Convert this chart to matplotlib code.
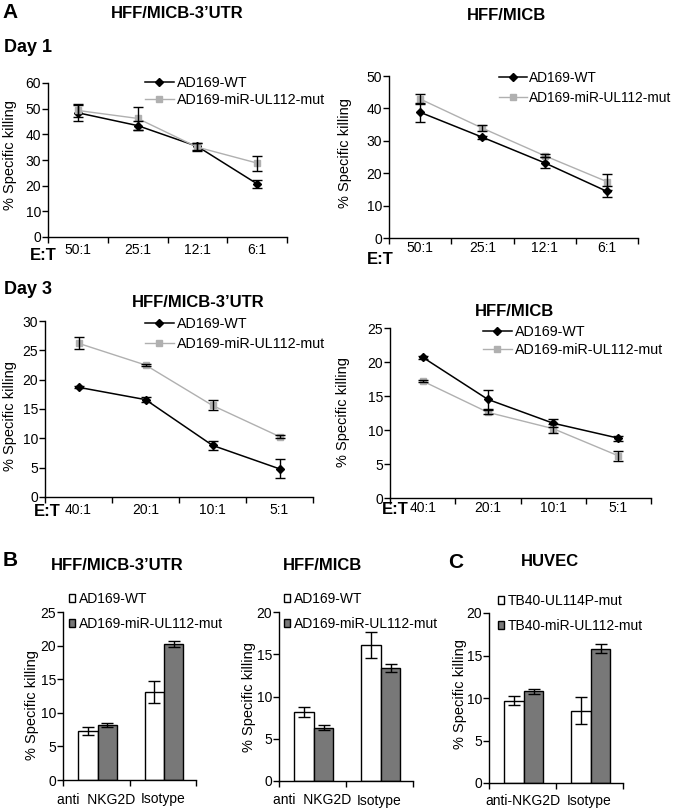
import matplotlib.pyplot as plt

plt.rcParams['font.family'] = ['Liberation Sans', 'DejaVu Sans']

# ---- data ----
ratios_day1 = ["50:1", "25:1", "12:1", "6:1"]
ratios_day3 = ["40:1", "20:1", "10:1", "5:1"]
line_labels = ["AD169-WT", "AD169-miR-UL112-mut"]

d1_utr_wt = [48.4, 43.4, 35.3, 20.7]
d1_utr_wt_err = [3.2, 1.8, 1.5, 1.6]
d1_utr_mut = [49.3, 46.2, 35.0, 28.8]
d1_utr_mut_err = [2.6, 4.4, 1.6, 2.9]

d1_micb_wt = [38.8, 31.1, 23.2, 14.4]
d1_micb_wt_err = [3.0, 0.5, 1.7, 1.6]
d1_micb_mut = [42.9, 33.9, 25.4, 17.4]
d1_micb_mut_err = [1.5, 1.0, 0.5, 2.5]

d3_utr_wt = [18.7, 16.6, 8.8, 4.8]
d3_utr_wt_err = [0.2, 0.4, 0.8, 1.6]
d3_utr_mut = [26.2, 22.5, 15.6, 10.3]
d3_utr_mut_err = [1.0, 0.2, 0.85, 0.3]

d3_micb_wt = [20.7, 14.5, 11.0, 8.8]
d3_micb_wt_err = [0.2, 1.35, 0.6, 0.35]
d3_micb_mut = [17.2, 12.6, 10.2, 6.2]
d3_micb_mut_err = [0.2, 0.3, 0.65, 0.7]

b_groups = ["anti  NKG2D", "Isotype"]
b_utr_wt = [7.3, 13.1]
b_utr_wt_err = [0.6, 1.6]
b_utr_mut = [8.2, 20.2]
b_utr_mut_err = [0.3, 0.45]
b_micb_wt = [8.2, 16.1]
b_micb_wt_err = [0.6, 1.5]
b_micb_mut = [6.3, 13.4]
b_micb_mut_err = [0.3, 0.5]

c_groups = ["anti-NKG2D", "Isotype"]
c_labels = ["TB40-UL114P-mut", "TB40-miR-UL112-mut"]
c_ul114 = [9.7, 8.5]
c_ul114_err = [0.55, 1.6]
c_mir = [10.8, 15.8]
c_mir_err = [0.3, 0.55]

W, H = 674, 810
fig = plt.figure(figsize=(W / 100, H / 100), dpi=100)
GRAY = "#b0b0b0"
BAR_GRAY = "#787878"


def px_axes(x0, y0, x1, y1):
    return fig.add_axes([x0 / W, 1 - y1 / H, (x1 - x0) / W, (y1 - y0) / H])


def ftext(x, y, s, **kw):
    fig.text(x / W, 1 - y / H, s, **kw)


def style_axes(ax, n, ymax, ystep, xpad):
    for side in ["top", "right"]:
        ax.spines[side].set_visible(False)
    for side in ["left", "bottom"]:
        ax.spines[side].set_linewidth(1.0)
    ax.set_xlim(-0.5, n - 0.5)
    ax.set_ylim(0, ymax)
    ax.set_yticks(range(0, ymax + 1, ystep))
    ax.set_xticks([i - 0.5 for i in range(n + 1)], minor=True)
    ax.tick_params(axis="y", direction="out", length=4, width=1, pad=1, labelsize=10)
    ax.tick_params(axis="x", which="major", length=0, pad=xpad, labelsize=10)
    ax.tick_params(axis="x", which="minor", direction="out", length=4, width=1)


def line_panel(rect, cats, wt, wt_err, mut, mut_err, ymax, ystep, xpad,
               leg_xy, leg_space, leg_size=10.3):
    ax = px_axes(*rect)
    x = list(range(len(cats)))
    h1, = ax.plot(x, wt, color="black", lw=1.1, marker="D", ms=4.2, clip_on=False)
    h2, = ax.plot(x, mut, color=GRAY, lw=1.0, marker="s", ms=4.5, clip_on=False)
    ax.errorbar(x, wt, yerr=wt_err, fmt="none", ecolor="black", elinewidth=1,
                capsize=3.5, capthick=1, clip_on=False)
    ax.errorbar(x, mut, yerr=mut_err, fmt="none", ecolor="black", elinewidth=1,
                capsize=3.5, capthick=1, clip_on=False)
    style_axes(ax, len(cats), ymax, ystep, xpad)
    ax.set_xticks(x)
    ax.set_xticklabels(cats)
    ax.legend([h1, h2], line_labels, loc="upper left",
              bbox_to_anchor=(leg_xy[0] / W, 1 - leg_xy[1] / H),
              bbox_transform=fig.transFigure, frameon=False, fontsize=leg_size,
              borderpad=0, borderaxespad=0, handlelength=2.0,
              handletextpad=0.2, labelspacing=leg_space)
    return ax


def bar_panel(rect, groups, s1, e1, s2, e2, labels, ymax, ystep, xpad, leg_xy):
    ax = px_axes(*rect)
    x = list(range(len(groups)))
    w = 0.29
    x1 = [i - w / 2 + 0.02 for i in x]
    x2 = [i + w / 2 + 0.02 for i in x]
    b1 = ax.bar(x1, s1, width=w, color="white", edgecolor="black", lw=1,
                yerr=e1, capsize=4, error_kw=dict(elinewidth=1, capthick=1))
    b2 = ax.bar(x2, s2, width=w, color=BAR_GRAY, edgecolor="black", lw=1,
                yerr=e2, capsize=4, error_kw=dict(elinewidth=1, capthick=1))
    style_axes(ax, len(groups), ymax, ystep, xpad)
    ax.set_xticks(x)
    ax.set_xticklabels(groups)
    ax.legend([b1, b2], labels, loc="upper left",
              bbox_to_anchor=(leg_xy[0] / W, 1 - leg_xy[1] / H),
              bbox_transform=fig.transFigure, frameon=False, fontsize=10,
              borderpad=0, borderaxespad=0, handlelength=0.45,
              handleheight=0.45, handletextpad=0.25, labelspacing=0.8)
    return ax


# ---- panel A, day 1 ----
line_panel((48, 83, 287, 237), ratios_day1, d1_utr_wt, d1_utr_wt_err,
           d1_utr_mut, d1_utr_mut_err, 60, 10, 4.5, (145, 76), 0.2)
line_panel((389, 76, 638, 238), ratios_day1, d1_micb_wt, d1_micb_wt_err,
           d1_micb_mut, d1_micb_mut_err, 50, 10, 2.5, (499, 71), 0.45, 9.9)

# ---- panel A, day 3 ----
line_panel((45, 321, 313, 497), ratios_day3, d3_utr_wt, d3_utr_wt_err,
           d3_utr_mut, d3_utr_mut_err, 30, 5, 4.5, (145, 317), 0.4)
line_panel((390, 328, 651, 498), ratios_day3, d3_micb_wt, d3_micb_wt_err,
           d3_micb_mut, d3_micb_mut_err, 25, 5, 2.5, (483, 325), 0.25)

# ---- panels B and C ----
bar_panel((63, 612, 196, 780), b_groups, b_utr_wt, b_utr_wt_err,
          b_utr_mut, b_utr_mut_err, line_labels, 25, 5, 9, (69, 592))
bar_panel((279, 612, 413, 781), b_groups, b_micb_wt, b_micb_wt_err,
          b_micb_mut, b_micb_mut_err, line_labels, 20, 5, 9, (284, 592))
bar_panel((489, 613, 623, 783), c_groups, c_ul114, c_ul114_err,
          c_mir, c_mir_err, c_labels, 20, 5, 8, (498, 594))

# ---- text ----
bold = dict(fontweight="bold", ha="center", va="center")
ftext(10, 12, "A", fontsize=15, **bold)
ftext(28, 47, "Day 1", fontsize=13, **bold)
ftext(28, 290, "Day 3", fontsize=13, **bold)
ftext(10, 560, "B", fontsize=15, **bold)
ftext(456, 563, "C", fontsize=15, **bold)

ftext(177, 14, "HFF/MICB-3\u2019UTR", fontsize=12, **bold)
ftext(506, 15, "HFF/MICB", fontsize=12, **bold)
ftext(198, 302, "HFF/MICB-3\u2019UTR", fontsize=12, **bold)
ftext(514, 311, "HFF/MICB", fontsize=12, **bold)
ftext(117, 565, "HFF/MICB-3\u2019UTR", fontsize=12, **bold)
ftext(322, 565, "HFF/MICB", fontsize=12, **bold)
ftext(550, 562, "HUVEC", fontsize=12, **bold)

ftext(43, 255, "E:T", fontsize=12, **bold)
ftext(380, 259, "E:T", fontsize=12, **bold)
ftext(47, 512, "E:T", fontsize=12, **bold)
ftext(395, 510, "E:T", fontsize=12, **bold)

ylab = dict(fontsize=10.5, rotation=90, ha="center", va="center")
for xy in [(10, 155), (345, 153), (10, 416), (343, 412), (32, 705), (249, 697), (460, 694)]:
    ftext(xy[0], xy[1], "% Specific killing", **ylab)

fig.savefig("out.png", dpi=100)
